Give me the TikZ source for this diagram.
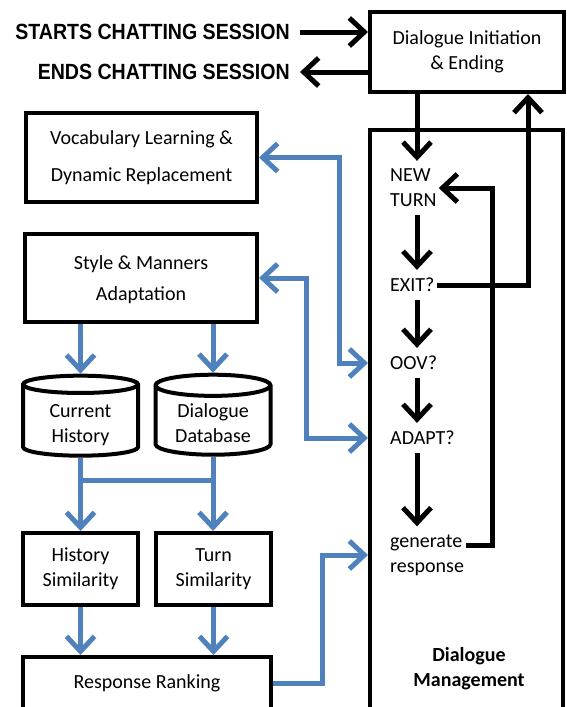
\documentclass[tikz,border=0pt]{standalone}
\usepackage{fontspec}
\setmainfont{Carlito}
\newfontfamily\headfont[FakeStretch=0.89]{Liberation Sans}
\usetikzlibrary{arrows.meta}
\usetikzlibrary{shapes.geometric}
\definecolor{dmblue}{RGB}{79,129,189}
\newcommand{\dbtext}[2]{\raisebox{-9pt}[20pt][20pt]{\begin{tabular}{@{}c@{}}#1\\#2\end{tabular}}}

\begin{document}
\begin{tikzpicture}[x=1pt, y=-1pt,
    font=\fontsize{20}{25}\selectfont,
    >={Straight Barb[length=15pt, width=28pt]},
    box/.style={draw, line width=4pt, align=center, inner sep=0pt},
    db/.style={cylinder, shape border rotate=90, aspect=0.28, draw, line width=4pt, inner sep=0pt, minimum width=115pt, minimum height=80pt},
    flow/.style={anchor=west, align=left, inner xsep=2pt, inner ysep=8pt},
    arr/.style={line width=5pt, ->},
    barr/.style={draw=dmblue, line width=5pt, ->},
    dbarr/.style={draw=dmblue, line width=5pt, <->},
    head/.style={font=\headfont\bfseries\fontsize{22}{26}\selectfont, anchor=east, inner xsep=10pt}]
  \useasboundingbox (0,0) rectangle (566,707);
  \clip (0,0) rectangle (566,707);

  % session start and end
  \node[box, minimum width=194pt, minimum height=80pt] (init) at (467,52) {Dialogue Initiation\\\& Ending};
  \node[head] (starts) at (300,32) {STARTS CHATTING SESSION};
  \node[head] (ends) at (300,72) {ENDS CHATTING SESSION};
  \draw[arr] (starts) -- (init.west |- starts);
  \draw[arr] (init.west |- ends) -- (ends);

  % dialogue management
  \node[box, minimum width=193pt, minimum height=640pt, anchor=north] (dm) at (466.5,128) {};
  \node[font=\bfseries\fontsize{20}{25}\selectfont, align=center] (dmtext) at (469,669) {Dialogue\\Management};
  \coordinate (spine) at (417,0);
  \coordinate (ret) at (528,0);
  \coordinate (loop) at (492,0);
  \node[flow] (newturn) at (388,188) {NEW\\TURN};
  \node[flow] (exit) at (388,285) {EXIT?};
  \node[flow] (oov) at (388,363) {OOV?};
  \node[flow] (adapt) at (388,438) {ADAPT?};
  \node[flow] (gen) at (388,555) {generate\\response};
  \draw[arr] (init.south -| spine) -- (newturn.north -| spine);
  \draw[arr] (newturn.south -| spine) -- (exit.north -| spine);
  \draw[arr] (exit.south -| spine) -- (oov.north -| spine);
  \draw[arr] (oov.south -| spine) -- (adapt.north -| spine);
  \draw[arr] (adapt.south -| spine) -- (gen.north -| spine);
  \draw[arr] (exit.east) -| (ret |- init.south);
  \draw[arr] ([yshift=10pt]gen.east) -| (loop |- newturn.east) -- (newturn.east);

  % left modules
  \node[box, minimum width=231pt, minimum height=89pt] (vocab) at (141.5,157.5) {Vocabulary Learning \&\\[12pt]Dynamic Replacement};
  \node[box, minimum width=232pt, minimum height=88pt] (style) at (141,278) {\rule{0pt}{17pt}Style \& Manners\\[6pt]Adaptation};
  \node[db] (hist) at (80.5,421) {\dbtext{Current}{History}};
  \node[db] (dbase) at (213,421) {\dbtext{Dialogue}{Database}};
  \node[box, minimum width=115pt, minimum height=72pt] (histsim) at (80.5,569) {History\\Similarity};
  \node[box, minimum width=115pt, minimum height=72pt] (turnsim) at (213.5,569) {Turn\\Similarity};
  \node[box, minimum width=248pt, minimum height=90pt, anchor=north] (rank) at (147,655) {};
  \node (ranktext) at (147,683) {Response Ranking};

  \coordinate (vbend) at (339,0);
  \coordinate (sbend) at (306,0);
  \coordinate (rbend) at (322,0);
  \coordinate (split) at (0,480);
  \draw[dbarr] (vocab.east) -- (vocab.east -| vbend) |- (oov.west -| dm.west);
  \draw[dbarr] (style.east) -- (style.east -| sbend) |- (adapt.west -| dm.west);
  \draw[barr] (style.south -| hist.north) -- (hist.north);
  \draw[barr] (style.south -| dbase.north) -- (dbase.north);
  \draw[barr] (hist.south) -- (histsim.north -| hist.south);
  \draw[barr] (dbase.south) -- (turnsim.north -| dbase.south);
  \draw[dmblue, line width=5pt] (hist.south |- split) -- (dbase.south |- split);
  \draw[barr] (histsim.south) -- (rank.north -| histsim.south);
  \draw[barr] (turnsim.south) -- (rank.north -| turnsim.south);
  \draw[barr] (ranktext.east -| rank.east) -- (ranktext.east -| rbend) |- (gen.west -| dm.west);
\end{tikzpicture}
\end{document}
